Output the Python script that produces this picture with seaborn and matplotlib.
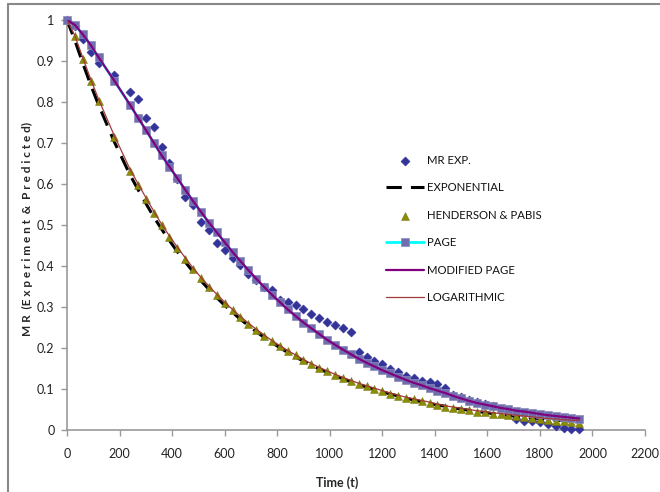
import numpy as np
import pandas as pd
import seaborn as sns
import matplotlib.pyplot as plt
from matplotlib.lines import Line2D

# drying time (min)
time_min = [0, 30, 60, 90, 120, 180, 240, 270, 300, 330, 360, 390, 420, 450, 480, 510,
            540, 570, 600, 630, 660, 690, 720, 750, 780, 810, 840, 870, 900, 930, 960, 990,
            1020, 1050, 1080, 1110, 1140, 1170, 1200, 1230, 1260, 1290, 1320, 1350, 1380,
            1410, 1440, 1470, 1500, 1530, 1560, 1590, 1620, 1650, 1680, 1710, 1740, 1770,
            1800, 1830, 1860, 1890, 1920, 1950]

mr_exp = [1.000, 0.986, 0.953, 0.923, 0.894, 0.867, 0.825, 0.807, 0.760, 0.738, 0.691, 0.652,
          0.612, 0.569, 0.549, 0.508, 0.489, 0.455, 0.440, 0.419, 0.402, 0.380, 0.367, 0.350,
          0.341, 0.317, 0.313, 0.305, 0.294, 0.283, 0.272, 0.264, 0.256, 0.248, 0.240, 0.190,
          0.179, 0.168, 0.160, 0.148, 0.142, 0.132, 0.128, 0.120, 0.118, 0.111, 0.103, 0.086,
          0.080, 0.073, 0.068, 0.063, 0.058, 0.052, 0.044, 0.028, 0.023, 0.021, 0.019, 0.014,
          0.010, 0.005, 0.002, 0.002]

mr_exponential = [1.000, 0.950, 0.895, 0.842, 0.793, 0.703, 0.622, 0.587, 0.553, 0.520, 0.490,
                  0.462, 0.435, 0.410, 0.386, 0.364, 0.343, 0.323, 0.304, 0.287, 0.270, 0.255,
                  0.240, 0.226, 0.213, 0.201, 0.189, 0.178, 0.168, 0.158, 0.149, 0.141, 0.133,
                  0.125, 0.118, 0.111, 0.105, 0.099, 0.093, 0.088, 0.083, 0.078, 0.073, 0.069,
                  0.065, 0.061, 0.058, 0.054, 0.051, 0.048, 0.045, 0.043, 0.040, 0.038, 0.036,
                  0.033, 0.031, 0.029, 0.028, 0.026, 0.024, 0.023, 0.021, 0.020]

mr_henderson = [1.000, 0.960, 0.905, 0.852, 0.803, 0.714, 0.632, 0.597, 0.563, 0.530, 0.499,
                0.470, 0.443, 0.417, 0.393, 0.370, 0.349, 0.329, 0.310, 0.292, 0.275, 0.259,
                0.244, 0.230, 0.217, 0.204, 0.193, 0.182, 0.171, 0.161, 0.152, 0.143, 0.135,
                0.127, 0.120, 0.113, 0.107, 0.101, 0.095, 0.089, 0.084, 0.079, 0.075, 0.071,
                0.067, 0.061, 0.057, 0.054, 0.051, 0.048, 0.045, 0.043, 0.040, 0.038, 0.036,
                0.034, 0.031, 0.029, 0.027, 0.025, 0.023, 0.021, 0.019, 0.018]

mr_page = [1.000, 0.988, 0.965, 0.939, 0.909, 0.852, 0.793, 0.762, 0.732, 0.701, 0.670, 0.642,
           0.614, 0.586, 0.558, 0.532, 0.506, 0.482, 0.458, 0.434, 0.412, 0.390, 0.369, 0.349,
           0.330, 0.312, 0.294, 0.278, 0.262, 0.248, 0.234, 0.220, 0.208, 0.196, 0.185, 0.174,
           0.164, 0.155, 0.146, 0.138, 0.130, 0.122, 0.115, 0.109, 0.102, 0.096, 0.090, 0.083,
           0.077, 0.071, 0.066, 0.062, 0.058, 0.054, 0.051, 0.047, 0.045, 0.042, 0.039, 0.036,
           0.034, 0.032, 0.030, 0.028]

mr_mod_page = [1.000, 0.988, 0.965, 0.939, 0.909, 0.852, 0.793, 0.762, 0.732, 0.701, 0.670,
               0.642, 0.614, 0.586, 0.558, 0.532, 0.506, 0.482, 0.458, 0.434, 0.412, 0.390,
               0.369, 0.349, 0.330, 0.312, 0.294, 0.278, 0.262, 0.248, 0.234, 0.220, 0.208,
               0.196, 0.185, 0.174, 0.164, 0.155, 0.146, 0.138, 0.130, 0.122, 0.115, 0.109,
               0.102, 0.096, 0.090, 0.083, 0.077, 0.071, 0.066, 0.062, 0.058, 0.054, 0.051,
               0.047, 0.045, 0.042, 0.039, 0.036, 0.034, 0.032, 0.030, 0.028]

mr_log = [1.000, 0.962, 0.908, 0.856, 0.807, 0.718, 0.636, 0.601, 0.567, 0.534, 0.502, 0.473,
          0.446, 0.420, 0.395, 0.372, 0.351, 0.331, 0.312, 0.294, 0.277, 0.261, 0.246, 0.232,
          0.218, 0.206, 0.194, 0.183, 0.172, 0.162, 0.153, 0.144, 0.136, 0.128, 0.121, 0.114,
          0.108, 0.102, 0.096, 0.090, 0.085, 0.080, 0.076, 0.072, 0.068, 0.063, 0.059, 0.056,
          0.053, 0.050, 0.047, 0.045, 0.042, 0.040, 0.038, 0.036, 0.034, 0.032, 0.030, 0.028,
          0.027, 0.025, 0.024, 0.023]

x_ticks = [0, 200, 400, 600, 800, 1000, 1200, 1400, 1600, 1800, 2000, 2200]
y_ticks = [0, 0.1, 0.2, 0.3, 0.4, 0.5, 0.6, 0.7, 0.8, 0.9, 1]

sns.set_style("white")
plt.rcParams['font.family'] = ['Lato', 'DejaVu Sans']

fig = plt.figure(figsize=(6.6, 4.92), dpi=100)
ax = fig.add_axes([67 / 660, 62 / 492, 578 / 660, 410 / 492])

# series in the same order as the original workbook
sns.scatterplot(x=time_min, y=mr_exp, marker='D', s=22, color='#333399',
                edgecolor='#333399', linewidth=0.3, label='MR EXP.', ax=ax, clip_on=False, zorder=3)
sns.lineplot(x=time_min, y=mr_exponential, color='black', linewidth=2.2,
             label='EXPONENTIAL', ax=ax, zorder=3)
ax.lines[-1].set_dashes([5, 3])
sns.scatterplot(x=time_min, y=mr_henderson, marker='^', s=32, color='#8c8c00',
                edgecolor='#77771a', linewidth=0.4, label='HENDERSON & PABIS', ax=ax,
                clip_on=False, zorder=4)
sns.lineplot(x=time_min, y=mr_page, color='#00ffff', linewidth=2, marker='s',
             markersize=5.3, markerfacecolor='#6f6fad', markeredgecolor='#8b8bc0',
             markeredgewidth=0.5, label='PAGE', ax=ax, zorder=5, clip_on=False)
sns.lineplot(x=time_min, y=mr_mod_page, color='#800080', linewidth=1.6,
             label='MODIFIED PAGE', ax=ax, zorder=6)
sns.lineplot(x=time_min, y=mr_log, color='#a33a3a', linewidth=0.9,
             label='LOGARITHMIC', ax=ax, zorder=7)

ax.set_xlim(0, 2200)
ax.set_ylim(0, 1)
ax.set_xticks(x_ticks)
ax.set_yticks(y_ticks)
ax.set_yticklabels([f"{v:g}" for v in y_ticks])
ax.tick_params(axis='both', direction='out', length=4, width=1, color='#999999',
               labelsize=9, labelcolor='#222222', pad=5, left=True, bottom=True)
ax.tick_params(axis='x', pad=9)

for side in ['top', 'right']:
    ax.spines[side].set_visible(False)
for side in ['left', 'bottom']:
    ax.spines[side].set_color('#999999')
    ax.spines[side].set_linewidth(1.2)

ax.set_xlabel('Time (t)', fontsize=9, fontweight='bold')
ax.xaxis.set_label_coords((337 - 67) / 578, (430 - 476) / 410)
ax.set_ylabel('M R  (E x p e r i m e n t  &  P r e d i c t e d)', fontsize=8.5,
              fontweight='bold')
ax.yaxis.set_label_coords((33 - 67) / 578, (430 - 229) / 410)

leg = ax.legend(loc='upper left', bbox_to_anchor=(380 / 660, 1 - 149 / 492),
                bbox_transform=fig.transFigure, frameon=False, fontsize=8.2,
                handlelength=3.4, handletextpad=0.25, labelspacing=1.45, borderpad=0)
for t in leg.get_texts():
    t.set_color('#111111')

# chart area border (top and left only visible)
fig.add_artist(Line2D([7.5 / 660, 1], [1 - 3.5 / 492, 1 - 3.5 / 492],
                      transform=fig.transFigure, color='#888888', linewidth=1.5))
fig.add_artist(Line2D([7.5 / 660, 7.5 / 660], [0, 1 - 3.5 / 492],
                      transform=fig.transFigure, color='#888888', linewidth=1.5))

fig.savefig('out.png', dpi=100)
